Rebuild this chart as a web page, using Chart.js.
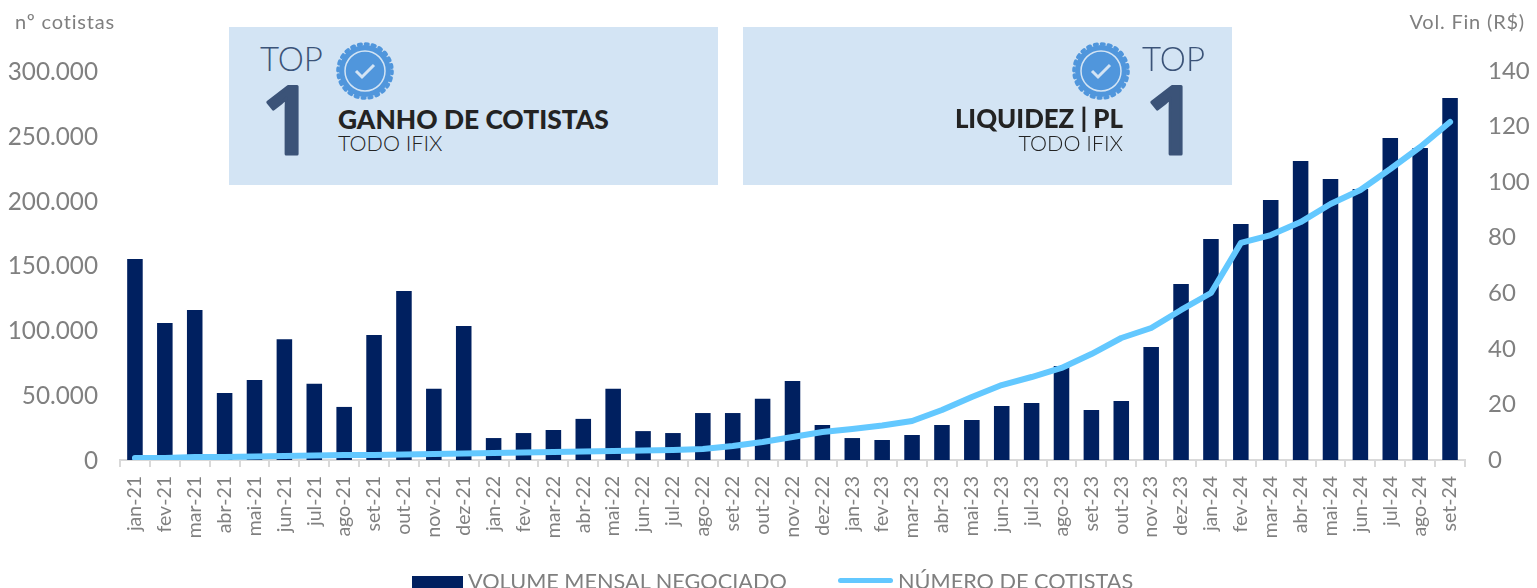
<!DOCTYPE html>
<html lang="pt-BR">
<head>
<meta charset="utf-8">
<title>Volume e cotistas</title>
<script src="https://cdn.jsdelivr.net/npm/chart.js@4"></script>
<style>
  html, body { margin: 0; padding: 0; background: #fff; overflow: hidden; }
  #wrap { position: relative; width: 1537px; height: 588px; overflow: hidden; font-family: Lato, sans-serif; }
  canvas { position: absolute; left: 0; top: 0; }
  .t { position: absolute; white-space: nowrap; line-height: 1; }
  .axis-title { top: 11px; font-size: 20px; letter-spacing: 0.8px; color: #7f7f7f; }
  .panel { position: absolute; top: 27px; width: 489px; height: 158px; background: #d3e4f4; }
  .top { top: 15px; font-size: 33px; font-weight: 300; color: #3b5378; }
  .head { top: 79px; font-size: 26.4px; font-weight: 900; color: #232323; }
  .sub { top: 106px; font-size: 21.5px; font-weight: 300; color: #232323; }
  svg.seal { position: absolute; top: 14px; width: 60px; height: 60px; }
  svg.one { position: absolute; top: 50px; width: 50px; height: 84px; overflow: visible; }
  svg.one text { font-family: "Open Sans", sans-serif; font-size: 95px; font-weight: 600; fill: #3b5378; stroke: #3b5378; stroke-width: 3; stroke-linejoin: round; text-anchor: middle; }
  .lg-text { top: 571px; font-size: 21.7px; color: #7f7f7f; }
  .lg-box { position: absolute; }
</style>
</head>
<body>
<div id="wrap">
  <canvas id="chart" width="1537" height="588"></canvas>

  <div class="t axis-title" style="left:15px">nº cotistas</div>
  <div class="t axis-title" style="right:12px">Vol. Fin (R$)</div>

  <div class="panel" style="left:229px">
    <div class="t top" style="left:31px">TOP</div>
    <svg class="one" style="left:34px" viewBox="0 0 50 84"><text x="25" y="77">1</text></svg>
    <svg class="seal" style="left:106px" viewBox="-30 -30 60 60">
      <circle r="26" fill="#5096dc"/>
      <circle r="27" fill="none" stroke="#5096dc" stroke-width="3.6" stroke-linecap="round" stroke-dasharray="2.6 4.47"/>
      <circle r="20" fill="none" stroke="#d3e4f4" stroke-width="1.5"/>
      <polyline points="-9,0 -3,6 9,-6" fill="none" stroke="#d3e4f4" stroke-width="3"/>
    </svg>
    <div class="t head" style="left:109px">GANHO DE COTISTAS</div>
    <div class="t sub" style="left:109px">TODO IFIX</div>
  </div>

  <div class="panel" style="left:743px">
    <div class="t top" style="right:27px">TOP</div>
    <svg class="one" style="left:404px" viewBox="0 0 50 84"><text x="25" y="77">1</text></svg>
    <svg class="seal" style="left:328px" viewBox="-30 -30 60 60">
      <circle r="26" fill="#5096dc"/>
      <circle r="27" fill="none" stroke="#5096dc" stroke-width="3.6" stroke-linecap="round" stroke-dasharray="2.6 4.47"/>
      <circle r="20" fill="none" stroke="#d3e4f4" stroke-width="1.5"/>
      <polyline points="-9,0 -3,6 9,-6" fill="none" stroke="#d3e4f4" stroke-width="3"/>
    </svg>
    <div class="t head" style="right:109px;font-size:25.8px">LIQUIDEZ | PL</div>
    <div class="t sub" style="right:109px">TODO IFIX</div>
  </div>

  <div id="legend"></div>
</div>

<script>
const months = [
  'jan-21','fev-21','mar-21','abr-21','mai-21','jun-21','jul-21','ago-21','set-21','out-21','nov-21','dez-21',
  'jan-22','fev-22','mar-22','abr-22','mai-22','jun-22','jul-22','ago-22','set-22','out-22','nov-22','dez-22',
  'jan-23','fev-23','mar-23','abr-23','mai-23','jun-23','jul-23','ago-23','set-23','out-23','nov-23','dez-23',
  'jan-24','fev-24','mar-24','abr-24','mai-24','jun-24','jul-24','ago-24','set-24'
];

// Vol. Fin (R$), right axis
const volume = [
  72.3, 49.3, 54, 24.1, 28.8, 43.5, 27.4, 19.1, 45, 60.8, 25.6, 48.2,
  7.9, 9.7, 10.8, 14.8, 25.6, 10.4, 9.7, 16.9, 16.9, 22, 28.4, 12.6,
  7.9, 7.2, 9, 12.6, 14.4, 19.4, 20.5, 33.8, 18, 21.2, 40.7, 63.3,
  79.5, 84.9, 93.6, 107.6, 101.1, 97.5, 115.9, 112.3, 130.3
];

// nº cotistas, left axis
const cotistas = [
  1500, 1500, 2300, 2300, 2700, 3100, 3500, 3900, 3900, 4200, 4600, 5000,
  5400, 5800, 6200, 6600, 6900, 7300, 7700, 8500, 10800, 13900, 17700, 21600,
  23900, 26600, 30100, 38600, 48600, 57800, 64000, 71000, 81700, 94100, 101800, 115700,
  128800, 167400, 173500, 183500, 197400, 208200, 224400, 241400, 260700
];

const leftTicks = [0, 50000, 100000, 150000, 200000, 250000, 300000];
const rightTicks = [0, 20, 40, 60, 80, 100, 120, 140];

const GRAY = '#808080';
const NAVY = '#002060';
const SKY = '#63c8ff';

const chart = new Chart(document.getElementById('chart'), {
  data: {
    labels: months,
    datasets: [
      {
        type: 'line',
        label: 'NÚMERO DE COTISTAS',
        data: cotistas,
        yAxisID: 'yLeft',
        borderColor: SKY,
        backgroundColor: SKY,
        borderWidth: 6,
        borderCapStyle: 'round',
        borderJoinStyle: 'round',
        pointRadius: 0,
        tension: 0,
        order: 1
      },
      {
        type: 'bar',
        label: 'VOLUME MENSAL NEGOCIADO',
        data: volume,
        yAxisID: 'yRight',
        backgroundColor: NAVY,
        barPercentage: 0.52,
        categoryPercentage: 1,
        order: 2
      }
    ]
  },
  options: {
    responsive: false,
    animation: false,
    layout: { padding: { top: 71, left: 0, right: 0, bottom: 0 } },
    plugins: { legend: { display: false }, tooltip: { enabled: false } },
    scales: {
      x: {
        offset: true,
        afterFit: (s) => { s.height = 128; },
        grid: { drawOnChartArea: false, offset: true, color: '#d9d9d9', lineWidth: 2, tickLength: 7 },
        border: { color: '#d9d9d9', width: 2 },
        ticks: {
          autoSkip: false, minRotation: 90, maxRotation: 90, padding: 9,
          color: GRAY, font: { family: 'Lato', size: 19.5 }
        }
      },
      yLeft: {
        position: 'left',
        min: 0,
        max: 300000,
        afterFit: (s) => { s.width = 120; },
        afterBuildTicks: (s) => { s.ticks = leftTicks.map((v) => ({ value: v })); },
        grid: { display: false, drawTicks: false },
        border: { display: false },
        ticks: {
          padding: 22, labelOffset: 1, color: GRAY, font: { family: 'Lato', size: 24.3 },
          callback: (v) => v.toLocaleString('pt-BR')
        }
      },
      yRight: {
        position: 'right',
        min: 0,
        max: 140,
        afterFit: (s) => { s.width = 72; },
        afterBuildTicks: (s) => { s.ticks = rightTicks.map((v) => ({ value: v })); },
        grid: { display: false, drawTicks: false },
        border: { display: false },
        ticks: { padding: 23, labelOffset: 0, color: GRAY, font: { family: 'Lato', size: 24 } }
      }
    }
  }
});

// legend sits partly below the window edge, same as the original
const legendLayout = [
  { dataset: 1, boxLeft: 412, boxWidth: 51, boxTop: 576, boxHeight: 14, textLeft: 468 },
  { dataset: 0, boxLeft: 838, boxWidth: 55, boxTop: 578, boxHeight: 5, textLeft: 898 }
];
const legendEl = document.getElementById('legend');
legendLayout.forEach((item) => {
  const ds = chart.data.datasets[item.dataset];
  const box = document.createElement('div');
  box.className = 'lg-box';
  box.style.cssText = `left:${item.boxLeft}px;top:${item.boxTop}px;width:${item.boxWidth}px;height:${item.boxHeight}px;` +
    `background:${ds.backgroundColor};border-radius:${ds.type === 'line' ? 3 : 0}px`;
  const txt = document.createElement('div');
  txt.className = 't lg-text';
  txt.style.left = item.textLeft + 'px';
  txt.textContent = ds.label;
  legendEl.append(box, txt);
});
</script>
</body>
</html>
